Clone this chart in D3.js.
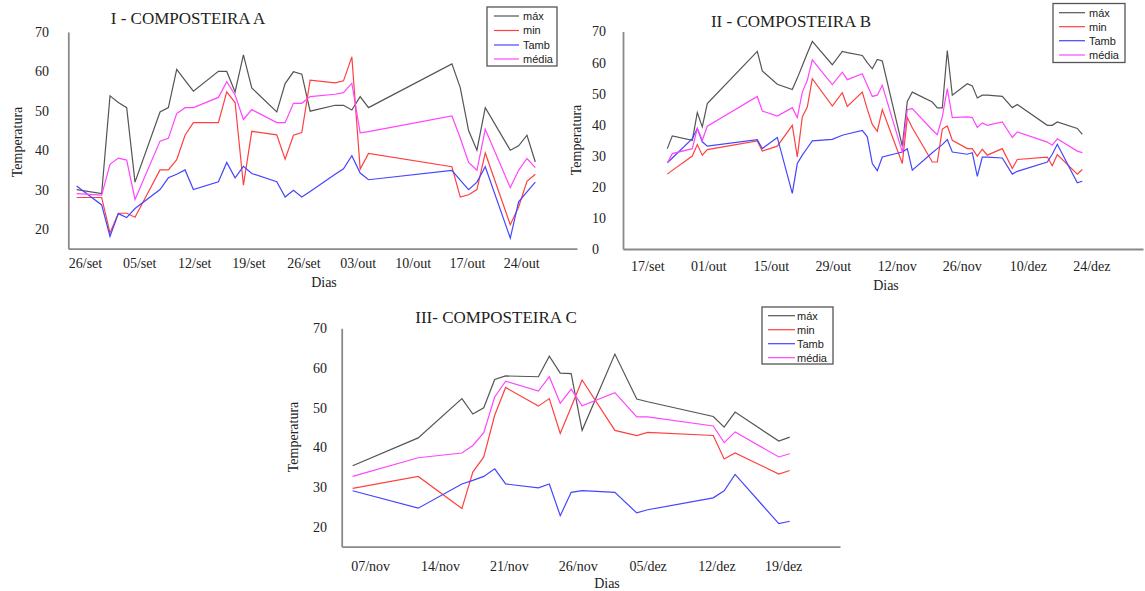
<!DOCTYPE html>
<html>
<head>
<meta charset="utf-8">
<script src="https://cdn.jsdelivr.net/npm/d3@7"></script>
<style>
  body { margin: 0; background: #fff; }
  svg text { fill: #222; }
  .serif { font-family: "Liberation Serif", "Times New Roman", serif; }
  .legend text { font-family: "Liberation Sans", Arial, sans-serif; font-size: 11px; }
</style>
</head>
<body>
<div id="chart"></div>
<script>
// series order: máx, min, Tamb, média
const seriesNames = ["máx", "min", "Tamb", "média"];

// I - Composteira A (x = day number, weekends skipped)
const diasA = [0, 3, 4, 5, 6, 7, 10, 11, 12, 13, 14, 17, 18, 19, 20, 21, 24, 25, 26, 27, 28, 31, 32, 33, 34, 35, 45, 46, 47, 48, 49, 52, 53, 54, 55];
const maxA = [30, 29, 53.8, 52.1, 50.8, 31.9, 49.7, 50.8, 60.5, 57.7, 55, 60, 60, 54.8, 64.2, 55.8, 49.7, 56.9, 59.9, 59.3, 49.9, 51.4, 51.4, 50.2, 53.6, 50.8, 61.9, 55.9, 45, 40, 50.8, 40, 41.1, 43.8, 37];
const minA = [28, 28, 19, 24, 24, 23, 35, 35, 37.6, 43.8, 47, 47, 54.8, 52.1, 31.1, 44.8, 43.9, 37.7, 43.8, 44.5, 57.8, 57.1, 57.6, 63.7, 35.2, 39.2, 35.8, 28.1, 28.7, 30, 39.3, 21.1, 25.6, 32.1, 33.9];
const tambA = [30.9, 26.1, 18.1, 23.9, 22.9, 25.2, 30, 33, 33.9, 35, 30, 32, 36.9, 33, 35.9, 34.1, 32, 28.1, 29.8, 28.1, 29.5, 33.9, 35.3, 38.6, 34.2, 32.5, 34.9, 32.4, 30, 31.9, 35.8, 17.7, 26.9, 29.4, 31.9];
const mediaA = [29, 28.6, 36.4, 38, 37.5, 27.5, 42.3, 43, 49.3, 50.8, 50.8, 53.4, 57.4, 54, 47.8, 50.3, 47, 47, 51.9, 51.9, 53.6, 54.2, 54.6, 57, 44.4, 44.7, 48.7, 43.1, 36.9, 34.9, 45.3, 30.5, 34.9, 37.9, 35.6];
const labelsA = ["26/set", "05/set", "12/set", "19/set", "26/set", "03/out", "10/out", "17/out", "24/out"];
const labelDaysA = [1.0, 7.5, 14.1, 20.6, 27.2, 33.7, 40.3, 46.8, 53.3];
const yTicksA = [20, 30, 40, 50, 60, 70];

// II - Composteira B
const diasB = [0, 1, 5, 6, 7, 8, 18, 19, 22, 25, 26, 27, 28, 29, 33, 35, 36, 39, 40, 41, 42, 43, 47, 48, 49, 53, 54, 55, 56, 57, 60, 61, 62, 63, 64, 67, 69, 70, 76, 77, 78, 82, 83];
const maxB = [32.3, 36.4, 35, 43.9, 39.3, 46.8, 63.6, 57.3, 53, 51.3, 55, 59, 63, 66.8, 59.3, 63.6, 63.2, 62.3, 60, 58, 61, 60.5, 33.1, 47.5, 50.5, 47.3, 45.4, 45.4, 63.9, 49.5, 53.2, 52.5, 48.6, 49.5, 49.5, 49.1, 45.5, 46.5, 39.8, 39.8, 40.9, 38.8, 36.9];
const minB = [24.1, 25.3, 29.9, 33.6, 30.2, 32, 34.8, 31.5, 33.1, 39.8, 29.6, 42.5, 45.7, 54.8, 46, 50.3, 45.9, 50.5, 45, 40.1, 37.9, 44.9, 27.5, 42.3, 39, 28, 28, 38.6, 39.6, 35, 32.3, 32.3, 29.9, 32.1, 30.2, 32.3, 25.9, 28.8, 29.6, 26.8, 30.4, 24.1, 25.6];
const tambB = [27.7, 29.3, 35.5, 38.8, 34.5, 33.1, 35.2, 32.3, 35.9, 17.9, 27.5, 30.2, 32.5, 34.8, 35.3, 36.6, 37, 38.2, 36.1, 27.5, 25.2, 29.6, 31.2, 32.3, 25.4, 31, 32.3, 33.6, 35.2, 31.2, 30.5, 31, 23.4, 29.6, 29.6, 29.3, 24.1, 25, 28, 30.5, 33.7, 21.3, 21.8];
const mediaB = [27.7, 30.7, 32.3, 38.8, 35, 39.5, 49.1, 44.4, 42.8, 45.5, 42.3, 50.5, 54.3, 60.9, 52.9, 56.9, 54.5, 56.4, 52.7, 49.1, 49.5, 52.7, 31.2, 44.9, 45.2, 38.3, 36.8, 42.5, 51.6, 42.3, 42.5, 42.3, 39.1, 40.6, 39.8, 40.9, 35.9, 37.7, 34.4, 33.4, 35.5, 31.5, 31];
const labelsB = ["17/set", "01/out", "15/out", "29/out", "12/nov", "26/nov", "10/dez", "24/dez"];
const labelDaysB = [-4.0, 8.2, 20.7, 33.1, 45.9, 58.9, 72.1, 84.8];
const yTicksB = [0, 10, 20, 30, 40, 50, 60, 70];

// III - Composteira C
const diasC = [0, 6, 10, 11, 12, 13, 14, 17, 18, 19, 20, 21, 24, 26, 27, 33, 34, 35, 39, 40];
const maxC = [35.4, 42.4, 52.3, 48.4, 50, 57.1, 58, 57.8, 63, 58.7, 58.6, 44.3, 63.5, 52.2, 51.5, 47.8, 45.1, 48.9, 41.6, 42.6];
const minC = [29.7, 32.7, 24.6, 33.8, 37.6, 48.1, 55.1, 50.4, 52.3, 43.5, 50.2, 57, 44.3, 43, 43.8, 43, 37.1, 38.6, 33.3, 34.2];
const tambC = [29.1, 24.7, 30.8, 31.7, 32.7, 34.6, 30.8, 29.8, 30.8, 22.8, 28.7, 29.1, 28.7, 23.5, 24.3, 27.3, 29.1, 33.2, 20.8, 21.4];
const mediaC = [32.7, 37.4, 38.6, 40.5, 43.7, 52.7, 56.7, 54.2, 57.8, 51.1, 54.7, 50.5, 53.8, 47.7, 47.7, 45.4, 41.2, 43.9, 37.6, 38.4];
const labelsC = ["07/nov", "14/nov", "21/nov", "26/nov", "05/dez", "12/dez", "19/dez"];
const labelDaysC = [1.6, 8.0, 14.3, 20.6, 27.0, 33.3, 39.4];
const yTicksC = [20, 30, 40, 50, 60, 70];

const colors = ["#555555", "#ff4040", "#4545ff", "#ff45ff"];

const svg = d3.select("#chart").append("svg")
  .attr("width", 1145)
  .attr("height", 591);

const panels = [
  { title: "I - COMPOSTEIRA A", dias: diasA, series: [maxA, minA, tambA, mediaA],
    labels: labelsA, labelDays: labelDaysA, yTicks: yTicksA,
    xDomain: [-1, 60], xRange: [68.3, 577], yDomain: [15, 70], yRange: [248.7, 32],
    yLabelX: 35, xPad: 9, titleAt: [188, 24], yTitleAt: [17, 142], xTitleAt: [324, 287],
    legend: { x: 487, y: 7, w: 70, h: 59, lx: [494, 519], tx: 523, rows: [16, 30.5, 45, 59] } },
  { title: "II - COMPOSTEIRA B", dias: diasB, series: [maxB, minB, tambB, mediaB],
    labels: labelsB, labelDays: labelDaysB, yTicks: yTicksB,
    xDomain: [-8.86, 95.14], xRange: [623, 1143], yDomain: [0, 70], yRange: [249, 31.5],
    yLabelX: 592, xPad: 12.5, titleAt: [791, 26.5], yTitleAt: [576, 140], xTitleAt: [886, 290],
    legend: { x: 1053, y: 3.5, w: 72, h: 59, lx: [1059, 1085], tx: 1089, rows: [12.7, 26.7, 40.7, 55] } },
  { title: "III- COMPOSTEIRA C", dias: diasC, series: [maxC, minC, tambC, mediaC],
    labels: labelsC, labelDays: labelDaysC, yTicks: yTicksC,
    xDomain: [-1.0, 44.6], xRange: [341.7, 840], yDomain: [15, 70], yRange: [546.7, 328.3],
    yLabelX: 313, xPad: 14.8, titleAt: [496, 322.5], yTitleAt: [293, 437], xTitleAt: [607, 587.5],
    legend: { x: 762, y: 307, w: 71, h: 57, lx: [768, 795], tx: 797, rows: [315.7, 329.7, 343.7, 357.7] } }
];

panels.forEach(function(p) {
  var x = d3.scaleLinear().domain(p.xDomain).range(p.xRange);
  var y = d3.scaleLinear().domain(p.yDomain).range(p.yRange);
  var g = svg.append("g");

  // axes
  var xAxis = d3.axisBottom(x)
    .tickValues(p.labelDays)
    .tickFormat(function(d, i) { return p.labels[i]; })
    .tickSize(0).tickSizeOuter(0).tickPadding(p.xPad);
  var gx = g.append("g")
    .attr("transform", "translate(0," + p.yRange[0] + ")")
    .call(xAxis);
  gx.selectAll("text").attr("class", "serif").style("font-size", "14px").style("fill", "#222");

  var yAxis = d3.axisLeft(y)
    .tickValues(p.yTicks)
    .tickSize(0).tickSizeOuter(0);
  var gy = g.append("g")
    .attr("transform", "translate(" + p.xRange[0] + ",0)")
    .call(yAxis);
  gy.selectAll("text")
    .attr("class", "serif")
    .attr("text-anchor", "start")
    .attr("x", p.yLabelX - p.xRange[0])
    .style("font-size", "14px").style("fill", "#222");

  g.selectAll(".domain").attr("stroke", "#8a8a8a").attr("stroke-width", 1.8);

  // series lines
  var line = d3.line()
    .x(function(d) { return x(d[0]); })
    .y(function(d) { return y(d[1]); });
  p.series.forEach(function(vals, k) {
    g.append("path")
      .datum(p.dias.map(function(d, i) { return [d, vals[i]]; }))
      .attr("fill", "none")
      .attr("stroke", colors[k])
      .attr("stroke-width", 1.2)
      .attr("d", line);
  });

  // titles
  g.append("text").attr("class", "serif")
    .attr("x", p.titleAt[0]).attr("y", p.titleAt[1])
    .attr("text-anchor", "middle").style("font-size", "17px")
    .text(p.title);
  g.append("text").attr("class", "serif")
    .attr("transform", "translate(" + p.yTitleAt[0] + "," + p.yTitleAt[1] + ") rotate(-90)")
    .attr("text-anchor", "middle").attr("dy", "0.35em").style("font-size", "14px")
    .text("Temperatura");
  g.append("text").attr("class", "serif")
    .attr("x", p.xTitleAt[0]).attr("y", p.xTitleAt[1])
    .attr("text-anchor", "middle").style("font-size", "14px")
    .text("Dias");

  // legend
  var L = p.legend;
  var lg = g.append("g").attr("class", "legend");
  lg.append("rect")
    .attr("x", L.x).attr("y", L.y).attr("width", L.w).attr("height", L.h)
    .attr("fill", "#fff").attr("stroke", "#555").attr("stroke-width", 1.3);
  seriesNames.forEach(function(name, k) {
    lg.append("line")
      .attr("x1", L.lx[0]).attr("x2", L.lx[1])
      .attr("y1", L.rows[k]).attr("y2", L.rows[k])
      .attr("stroke", colors[k]).attr("stroke-width", 1.2);
    lg.append("text")
      .attr("x", L.tx).attr("y", L.rows[k]).attr("dy", "0.35em")
      .text(name);
  });
});
</script>
</body>
</html>
